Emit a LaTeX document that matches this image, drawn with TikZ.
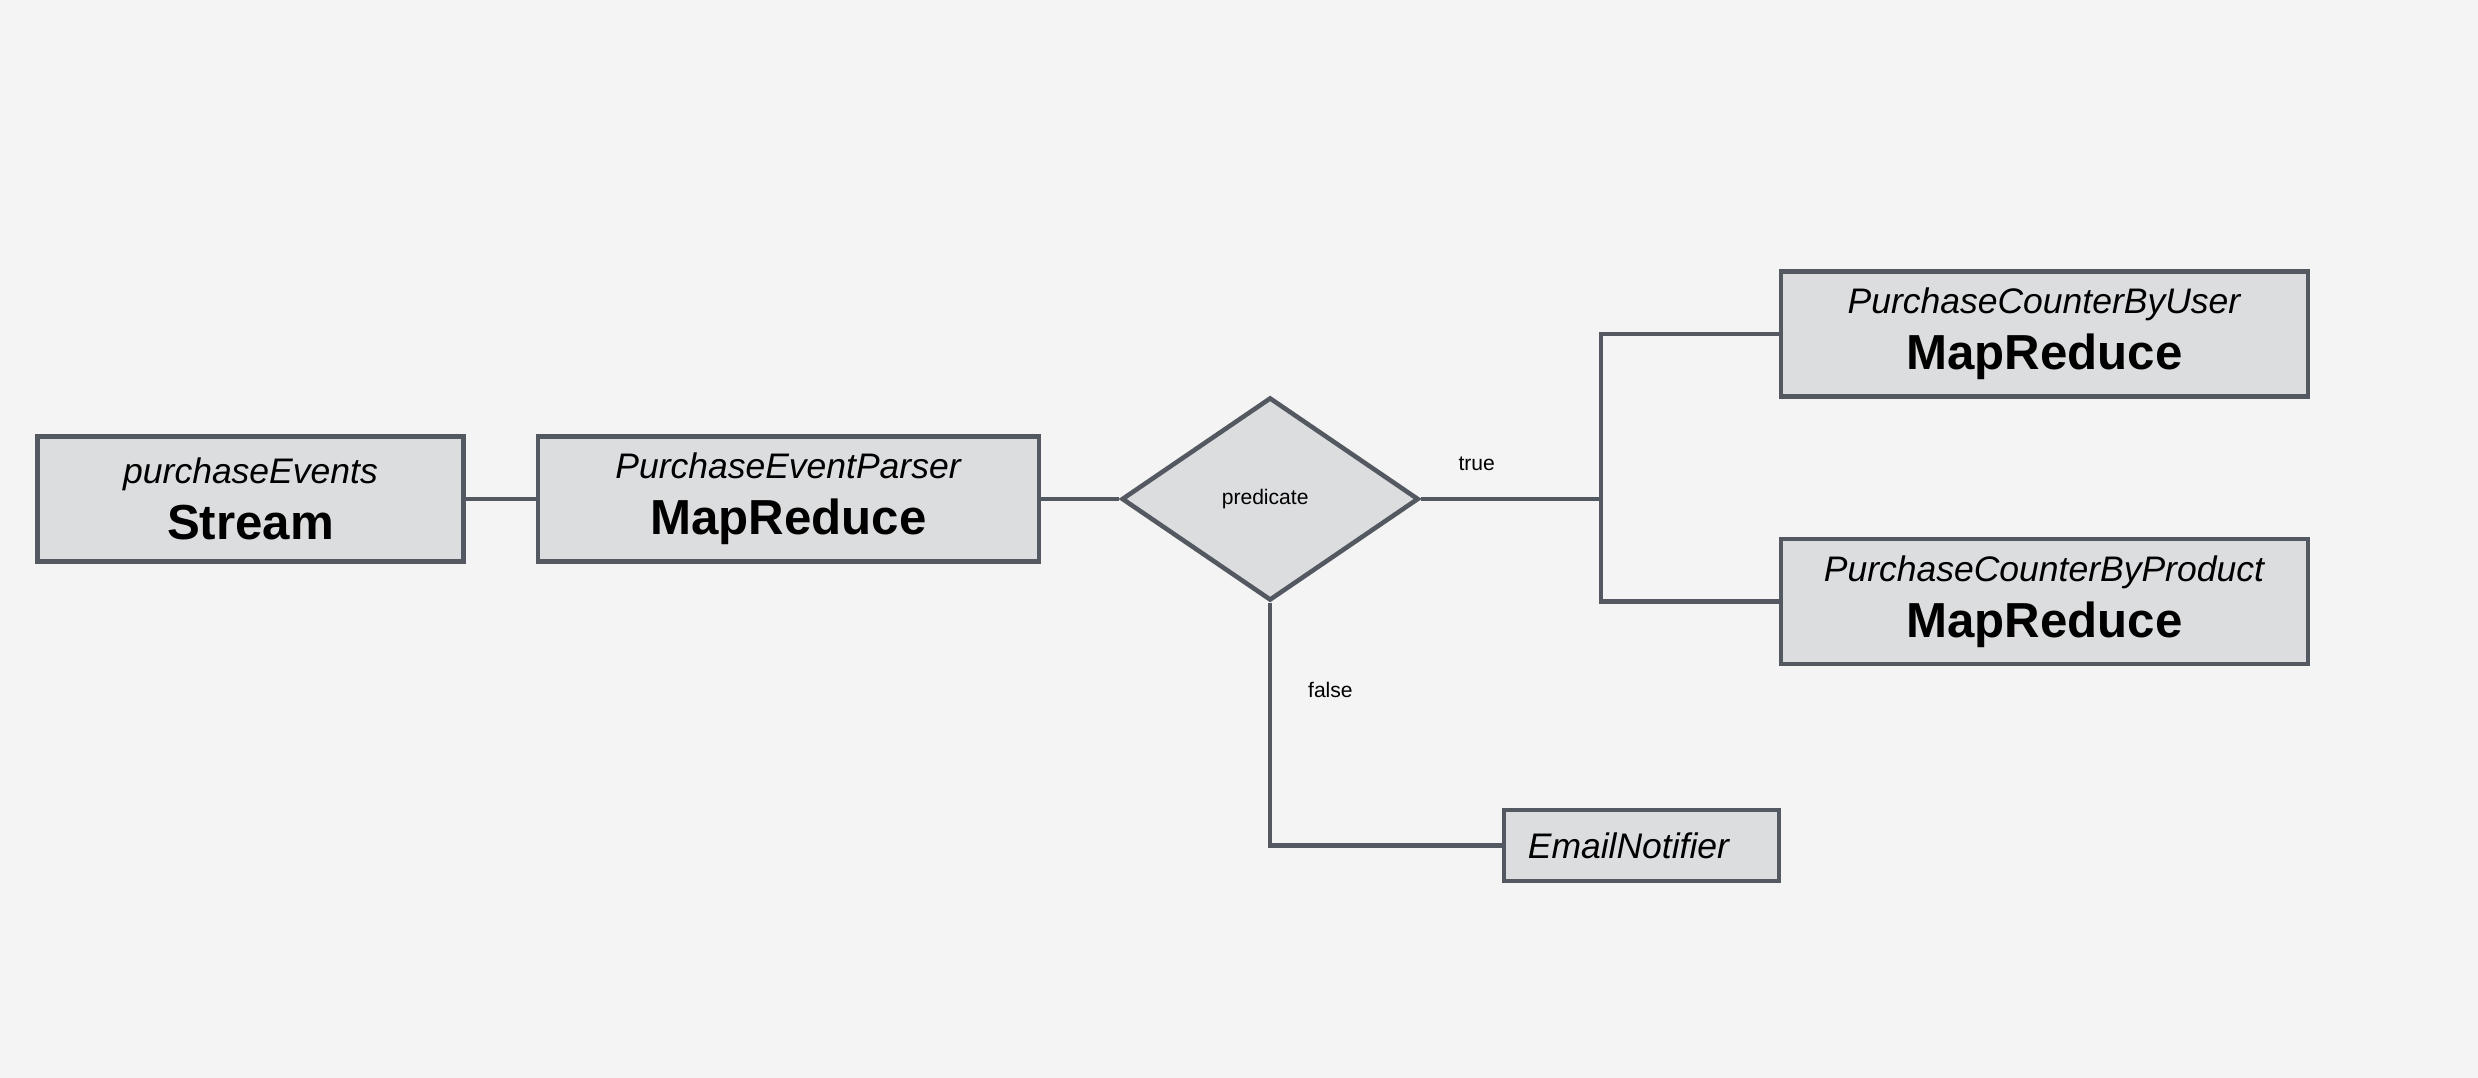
\documentclass[tikz,border=0pt]{standalone}
\usepackage{fontspec}
\setmainfont{Liberation Sans}
\usetikzlibrary{positioning,shapes.geometric}
\definecolor{bgcol}{HTML}{F4F4F4}
\definecolor{boxfill}{HTML}{DCDDDF}
\definecolor{linecol}{HTML}{545961}
\newcommand{\kindtext}[1]{{\fontsize{14}{16}\selectfont\bfseries #1}}

\begin{document}
\begin{tikzpicture}
        \tikzset{block/.style={draw=linecol,
                line width=1.3pt,
                fill=boxfill,
                shape=rectangle,
                align=center,
                inner sep=0pt,
                minimum height=1.25cm,
                font=\fontsize{10.1}{16}\selectfont
            },
            decision/.style={draw=linecol,
                line width=1.3pt,
                fill=boxfill,
                shape=diamond,
                inner sep=0pt,
                minimum width=2.97cm,
                minimum height=2.03cm,
                font=\fontsize{6}{7}\selectfont
            },
            lbl/.style={font=\fontsize{6}{7}\selectfont},
        }
        \fill[bgcol] (0,0) rectangle (24.78,-10.78);
        \node [block, minimum width=4.26cm] (stream) at (2.505,-4.99)
            {\textit{purchaseEvents}\\\kindtext{Stream}};
        \node [block, minimum width=5.01cm, right =0.7cm of stream] (parser)
            {\textit{PurchaseEventParser}\\\kindtext{MapReduce}};
        \node [decision, right =0.78cm of parser] (pred)
            {\raisebox{-0.3mm}{predicate}\hspace*{0.1cm}};
        \coordinate [right =1.8cm of pred.east] (fork);
        \node [block, minimum width=5.27cm] (byuser) at (20.445,-3.34)
            {\textit{PurchaseCounterByUser}\\\kindtext{MapReduce}};
        \node [block, minimum width=5.27cm, below =1.38cm of byuser] (byproduct)
            {\textit{PurchaseCounterByProduct}\\\kindtext{MapReduce}};
        \node [block, minimum width=2.75cm, minimum height=0.71cm] (notifier) at (16.415,-8.455)
            {\textit{EmailNotifier}\hspace*{0.25cm}};
%% paths
\path[draw=linecol, line width=1.3pt]
    (stream) edge (parser)
    (parser) edge (pred)
;
\draw[linecol, line width=1.3pt]
    (pred.east) -- node[lbl, text=black, pos=0.31, above=0.14cm] {true} (fork);
\draw[linecol, line width=1.3pt]
    (byuser.west) -| (fork) |- (byproduct.west);
\draw[linecol, line width=1.3pt]
    (pred.south) |- node[lbl, text=black, pos=0.18, right=0.24cm] {false} (notifier.west);
\end{tikzpicture}
\end{document}
